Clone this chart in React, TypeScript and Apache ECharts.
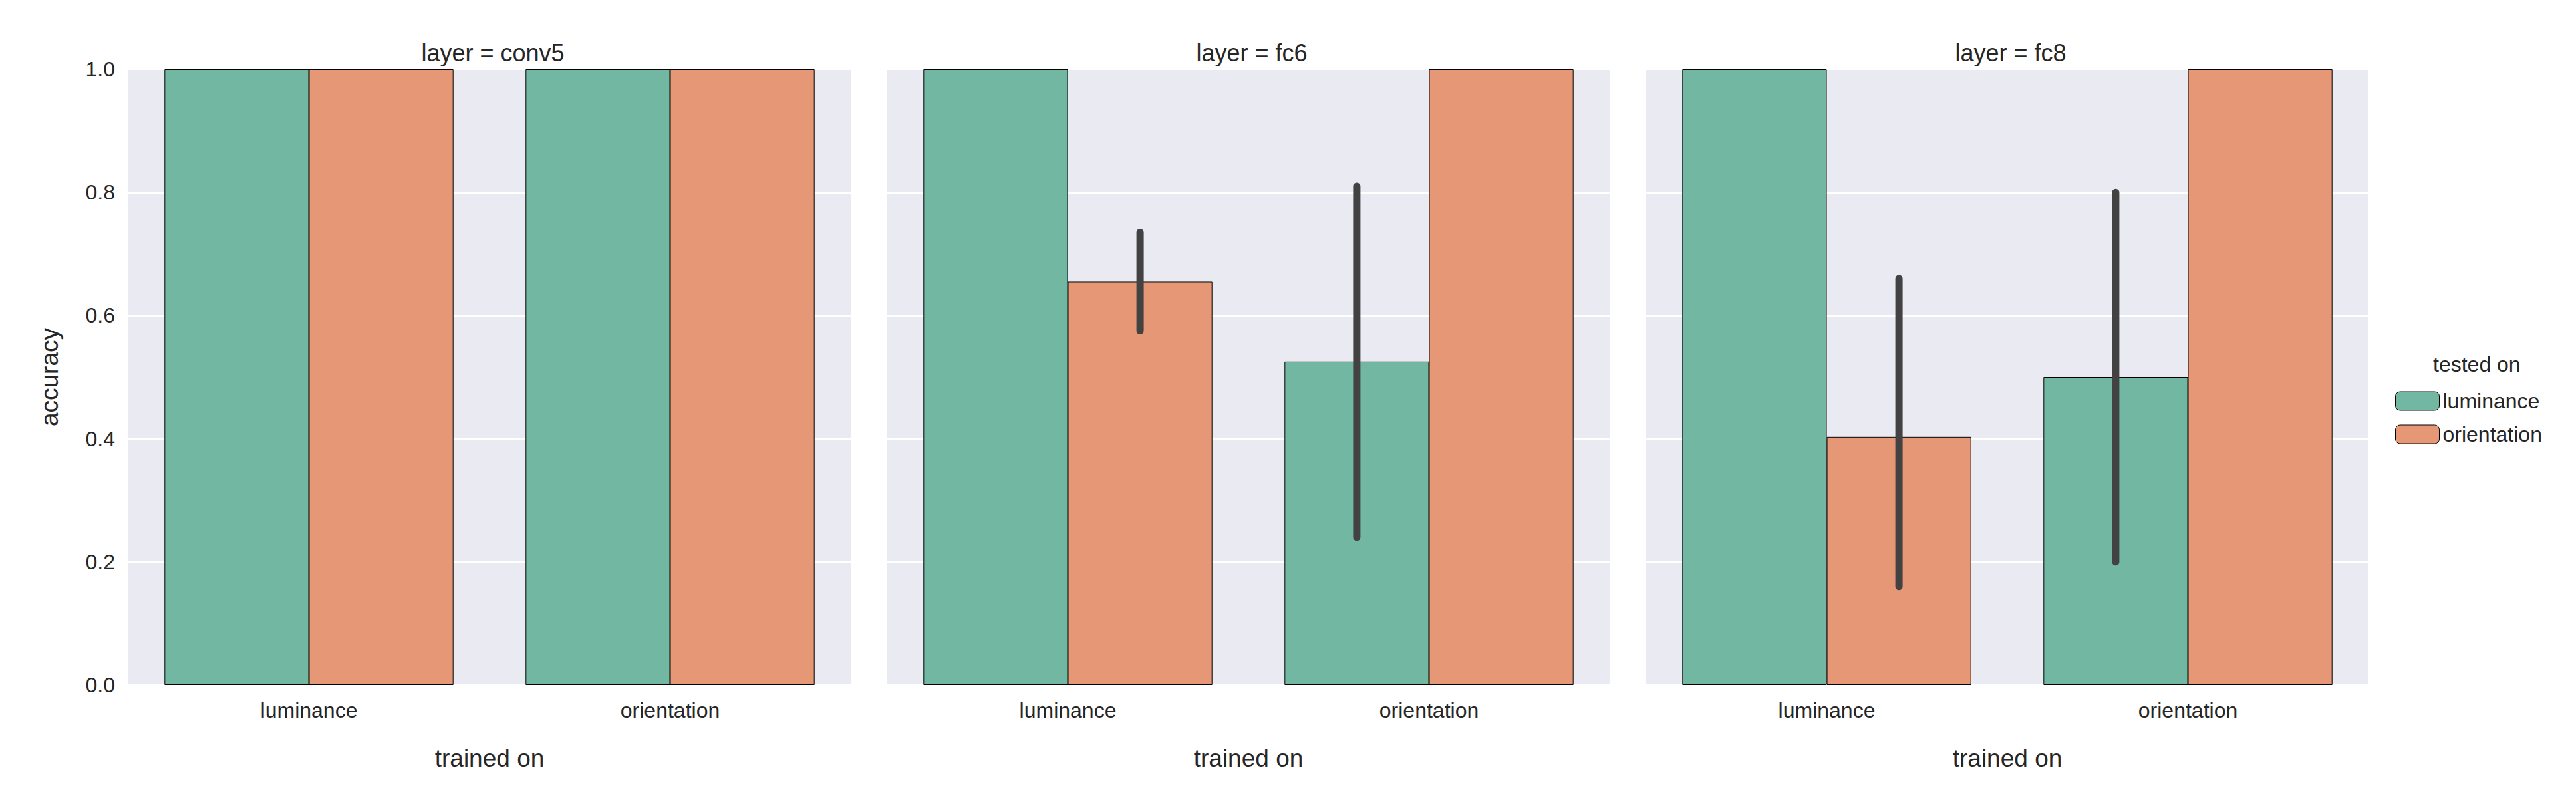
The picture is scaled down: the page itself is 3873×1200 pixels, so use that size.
import React, { useEffect, useRef } from 'react';
import * as echarts from 'echarts';

const panels = ['conv5', 'fc6', 'fc8'];
const trainedOn = ['luminance', 'orientation'];
const testedOn = ['luminance', 'orientation'];
// values[panel][testedOn][trainedOn]
const luminanceVals = [
  [1.0, 1.0],
  [1.0, 0.525],
  [1.0, 0.5],
];
const orientationVals = [
  [1.0, 1.0],
  [0.655, 1.0],
  [0.403, 1.0],
];
// error bars: [panel, trainedIndex, testedIndex, low, high]
const errorBars = [
  [1, 0, 1, 0.575, 0.735],
  [1, 1, 0, 0.24, 0.81],
  [2, 0, 1, 0.16, 0.66],
  [2, 1, 0, 0.2, 0.8],
];
const yTicks = [0, 0.2, 0.4, 0.6, 0.8, 1.0];

const colors = ['#72B7A1', '#E69876'];
const FONT = 'Liberation Sans';

const App: React.FC = () => {
  const chartRef = useRef<HTMLDivElement>(null);

  useEffect(() => {
    if (!chartRef.current) return;
    const chart = echarts.init(chartRef.current, undefined, { renderer: 'svg' });
    const lefts = [185, 1326, 2467];
    const gw = 1086;

    const grid = lefts.map((l) => ({
      left: l, top: 96, width: gw, height: 926,
      show: true, backgroundColor: '#EAEAF2', borderWidth: 0,
    }));
    const xAxis = panels.map((_, i) => ({
      type: 'category', gridIndex: i, data: trainedOn,
      name: 'trained on', nameLocation: 'middle', nameGap: 92,
      nameTextStyle: { fontFamily: FONT, fontSize: 37, color: '#262626' },
      axisLine: { show: false }, axisTick: { show: false },
      axisLabel: { fontFamily: FONT, fontSize: 32, color: '#262626', margin: 22 },
    }));
    const yAxis = panels.map((_, i) => ({
      type: 'value', gridIndex: i, min: 0, max: 1, interval: 0.2,
      name: i === 0 ? 'accuracy' : '', nameLocation: 'middle', nameGap: 100,
      nameTextStyle: { fontFamily: FONT, fontSize: 37, color: '#262626' },
      axisLine: { show: false }, axisTick: { show: false },
      axisLabel: {
        show: i === 0, fontFamily: FONT, fontSize: 32, color: '#262626', margin: 20,
        formatter: (v: number) => (yTicks.includes(Number(v.toFixed(1))) ? v.toFixed(1) : ''),
      },
      splitLine: { lineStyle: { color: '#FFFFFF', width: 3 } },
    }));

    const series: any[] = [];
    panels.forEach((_, i) => {
      [luminanceVals, orientationVals].forEach((vals, s) => {
        series.push({
          type: 'bar', name: testedOn[s], xAxisIndex: i, yAxisIndex: i,
          data: vals[i], barWidth: '40%', barGap: '0%',
          itemStyle: { color: colors[s], borderColor: '#000', borderWidth: 1 },
        });
      });
      series.push({
        type: 'custom', xAxisIndex: i, yAxisIndex: i, z: 10,
        data: errorBars.filter((e) => e[0] === i).map((e) => [e[1], e[3], e[4], e[2]]),
        renderItem: (params: any, api: any) => {
          const cat = api.value(0);
          const off = (api.value(3) === 0 ? -0.2 : 0.2) * api.size([1, 0])[0];
          const p1 = api.coord([cat, api.value(1)]);
          const p2 = api.coord([cat, api.value(2)]);
          return {
            type: 'line',
            shape: { x1: p1[0] + off, y1: p1[1], x2: p2[0] + off, y2: p2[1] },
            style: { stroke: '#424242', lineWidth: 11, lineCap: 'round' },
          };
        },
      });
    });

    const option: any = {
      animation: false,
      color: colors,
      title: panels.map((p, i) => ({
        text: 'layer = ' + p, left: lefts[i] + gw / 2, top: 48, textAlign: 'center',
        textStyle: { fontFamily: FONT, fontSize: 36, fontWeight: 'normal', color: '#262626' },
      })),
      legend: {
        data: testedOn, orient: 'vertical', left: 3588, top: 574,
        itemWidth: 66, itemHeight: 28, itemGap: 18,
        textStyle: { fontFamily: FONT, fontSize: 32, color: '#262626' },
        itemStyle: { borderColor: '#000', borderWidth: 1 },
      },
      graphic: [{
        type: 'text', left: 3650, top: 524,
        style: { text: 'tested on', fontFamily: FONT, fontSize: 32, fill: '#262626' },
      }],
      grid, xAxis, yAxis, series,
    };
    chart.setOption(option);
    return () => chart.dispose();
  }, []);

  return <div ref={chartRef} style={{ width: 3857, height: 1184 }} />;
};

export default App;
